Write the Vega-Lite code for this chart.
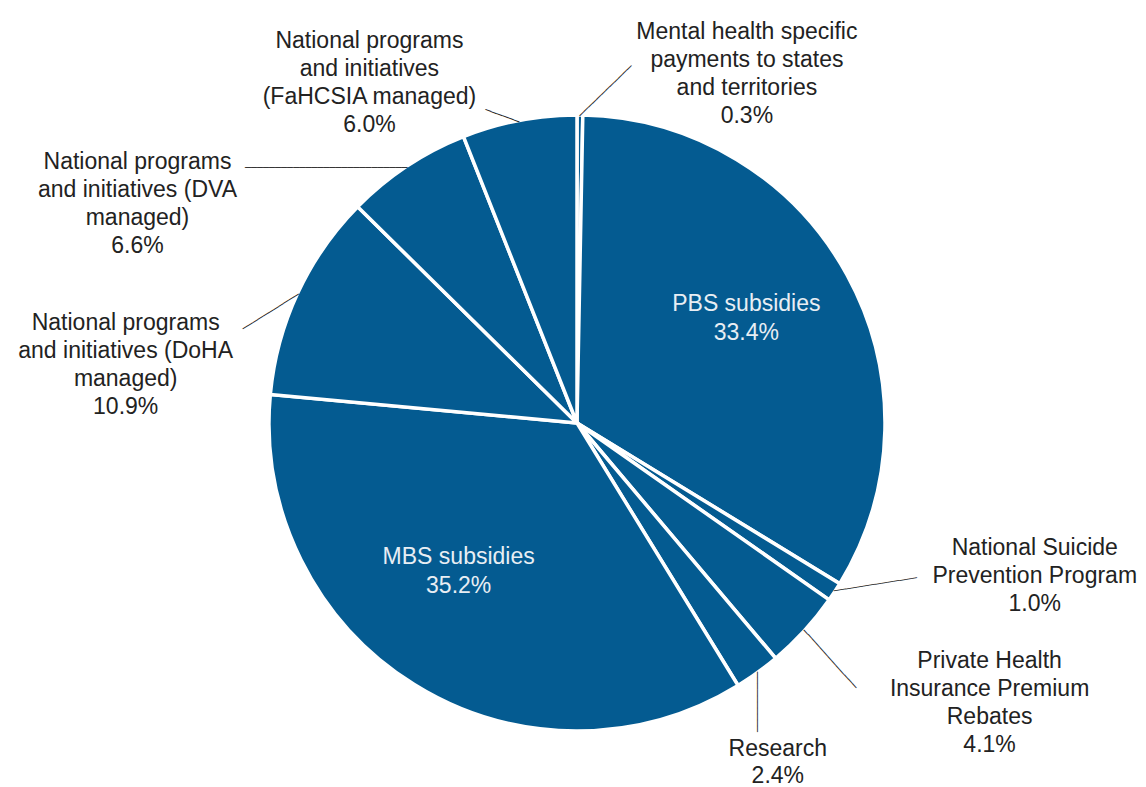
{
  "$schema": "https://vega.github.io/schema/vega-lite/v6.json",
  "width": 1138,
  "height": 728,
  "padding": {"left": 8, "top": 59, "right": 0, "bottom": 0},
  "autosize": {"type": "none"},
  "background": "#ffffff",
  "view": {"stroke": null},
  "data": {
    "values": [
      {"order": 1, "key": "MH", "name": "Mental health specific payments to states and territories", "value": 0.3, "label": "Mental health specific\npayments to states\nand territories\n0.3%"},
      {"order": 2, "key": "PBS", "name": "PBS subsidies", "value": 33.4, "label": "PBS subsidies\n33.4%"},
      {"order": 3, "key": "NSPP", "name": "National Suicide Prevention Program", "value": 1.0, "label": "National Suicide\nPrevention Program\n1.0%"},
      {"order": 4, "key": "PHI", "name": "Private Health Insurance Premium Rebates", "value": 4.1, "label": "Private Health\nInsurance Premium\nRebates\n4.1%"},
      {"order": 5, "key": "RES", "name": "Research", "value": 2.4, "label": "Research\n2.4%"},
      {"order": 6, "key": "MBS", "name": "MBS subsidies", "value": 35.2, "label": "MBS subsidies\n35.2%"},
      {"order": 7, "key": "DOHA", "name": "National programs and initiatives (DoHA managed)", "value": 10.9, "label": "National programs\nand initiatives (DoHA\nmanaged)\n10.9%"},
      {"order": 8, "key": "DVA", "name": "National programs and initiatives (DVA managed)", "value": 6.6, "label": "National programs\nand initiatives (DVA\nmanaged)\n6.6%"},
      {"order": 9, "key": "FAH", "name": "National programs and initiatives (FaHCSIA managed)", "value": 6.0, "label": "National programs\nand initiatives\n(FaHCSIA managed)\n6.0%"}
    ]
  },
  "encoding": {
    "theta": {"field": "value", "type": "quantitative", "stack": true},
    "order": {"field": "order", "type": "quantitative"},
    "detail": {"field": "key", "type": "nominal"}
  },
  "layer": [
    {
      "mark": {"type": "arc", "outerRadius": 308, "fill": "#045b91", "stroke": "#ffffff", "strokeWidth": 3.5}
    },
    {
      "mark": {"type": "text", "radius": 307, "align": "left", "baseline": "middle", "font": "DejaVu Sans Mono", "fontSize": 10, "color": "#1a1a1a", "angle": -44},
      "encoding": {"text": {"condition": {"test": "datum.key === 'MH'", "value": "────────────"}, "value": ""}}
    },
    {
      "mark": {"type": "text", "radius": 307, "align": "left", "baseline": "middle", "font": "DejaVu Sans Mono", "fontSize": 10, "color": "#1a1a1a", "angle": -160},
      "encoding": {"text": {"condition": {"test": "datum.key === 'FAH'", "value": "──────"}, "value": ""}}
    },
    {
      "mark": {"type": "text", "radius": 307, "align": "left", "baseline": "middle", "font": "DejaVu Sans Mono", "fontSize": 10, "color": "#1a1a1a", "angle": 180},
      "encoding": {"text": {"condition": {"test": "datum.key === 'DVA'", "value": "───────────────────────────"}, "value": ""}}
    },
    {
      "mark": {"type": "text", "radius": 307, "align": "left", "baseline": "middle", "font": "DejaVu Sans Mono", "fontSize": 10, "color": "#1a1a1a", "angle": 148},
      "encoding": {"text": {"condition": {"test": "datum.key === 'DOHA'", "value": "───────────"}, "value": ""}}
    },
    {
      "mark": {"type": "text", "radius": 307, "align": "left", "baseline": "middle", "font": "DejaVu Sans Mono", "fontSize": 10, "color": "#1a1a1a", "angle": -9},
      "encoding": {"text": {"condition": {"test": "datum.key === 'NSPP'", "value": "──────────────"}, "value": ""}}
    },
    {
      "mark": {"type": "text", "radius": 307, "align": "left", "baseline": "middle", "font": "DejaVu Sans Mono", "fontSize": 10, "color": "#1a1a1a", "angle": 48},
      "encoding": {"text": {"condition": {"test": "datum.key === 'PHI'", "value": "─────────────"}, "value": ""}}
    },
    {
      "mark": {"type": "text", "radius": 307, "align": "left", "baseline": "middle", "font": "DejaVu Sans Mono", "fontSize": 10, "color": "#1a1a1a", "angle": 90},
      "encoding": {"text": {"condition": {"test": "datum.key === 'RES'", "value": "──────────"}, "value": ""}}
    },
    {
      "mark": {"type": "text", "radius": 307, "align": "center", "baseline": "middle", "font": "Liberation Sans", "fontSize": 23, "lineHeight": 28, "lineBreak": "\n", "color": "#222222", "dx": 167, "dy": -84},
      "encoding": {"text": {"condition": {"test": "datum.key === 'MH'", "field": "label"}, "value": ""}}
    },
    {
      "mark": {"type": "text", "radius": 307, "align": "center", "baseline": "middle", "font": "Liberation Sans", "fontSize": 23, "lineHeight": 28, "lineBreak": "\n", "color": "#222222", "dx": -150, "dy": -80},
      "encoding": {"text": {"condition": {"test": "datum.key === 'FAH'", "field": "label"}, "value": ""}}
    },
    {
      "mark": {"type": "text", "radius": 307, "align": "center", "baseline": "middle", "font": "Liberation Sans", "fontSize": 23, "lineHeight": 28, "lineBreak": "\n", "color": "#222222", "dx": -270, "dy": -5},
      "encoding": {"text": {"condition": {"test": "datum.key === 'DVA'", "field": "label"}, "value": ""}}
    },
    {
      "mark": {"type": "text", "radius": 307, "align": "center", "baseline": "middle", "font": "Liberation Sans", "fontSize": 23, "lineHeight": 28, "lineBreak": "\n", "color": "#222222", "dx": -173, "dy": 30},
      "encoding": {"text": {"condition": {"test": "datum.key === 'DOHA'", "field": "label"}, "value": ""}}
    },
    {
      "mark": {"type": "text", "radius": 307, "align": "center", "baseline": "middle", "font": "Liberation Sans", "fontSize": 23, "lineHeight": 28, "lineBreak": "\n", "color": "#222222", "dx": 201, "dy": -43},
      "encoding": {"text": {"condition": {"test": "datum.key === 'NSPP'", "field": "label"}, "value": ""}}
    },
    {
      "mark": {"type": "text", "radius": 307, "align": "center", "baseline": "middle", "font": "Liberation Sans", "fontSize": 23, "lineHeight": 28, "lineBreak": "\n", "color": "#222222", "dx": 186, "dy": 31},
      "encoding": {"text": {"condition": {"test": "datum.key === 'PHI'", "field": "label"}, "value": ""}}
    },
    {
      "mark": {"type": "text", "radius": 307, "align": "center", "baseline": "middle", "font": "Liberation Sans", "fontSize": 23, "lineHeight": 27, "lineBreak": "\n", "color": "#222222", "dx": 21, "dy": 77},
      "encoding": {"text": {"condition": {"test": "datum.key === 'RES'", "field": "label"}, "value": ""}}
    },
    {
      "mark": {"type": "text", "radius": 200, "align": "center", "baseline": "middle", "font": "Liberation Sans", "fontSize": 23, "lineHeight": 29, "lineBreak": "\n", "color": "#e8eef4", "dx": -6, "dy": -23},
      "encoding": {"text": {"condition": {"test": "datum.key === 'PBS'", "field": "label"}, "value": ""}}
    },
    {
      "mark": {"type": "text", "radius": 188, "align": "center", "baseline": "middle", "font": "Liberation Sans", "fontSize": 23, "lineHeight": 29, "lineBreak": "\n", "color": "#e8eef4", "dx": -19, "dy": -26},
      "encoding": {"text": {"condition": {"test": "datum.key === 'MBS'", "field": "label"}, "value": ""}}
    }
  ]
}
